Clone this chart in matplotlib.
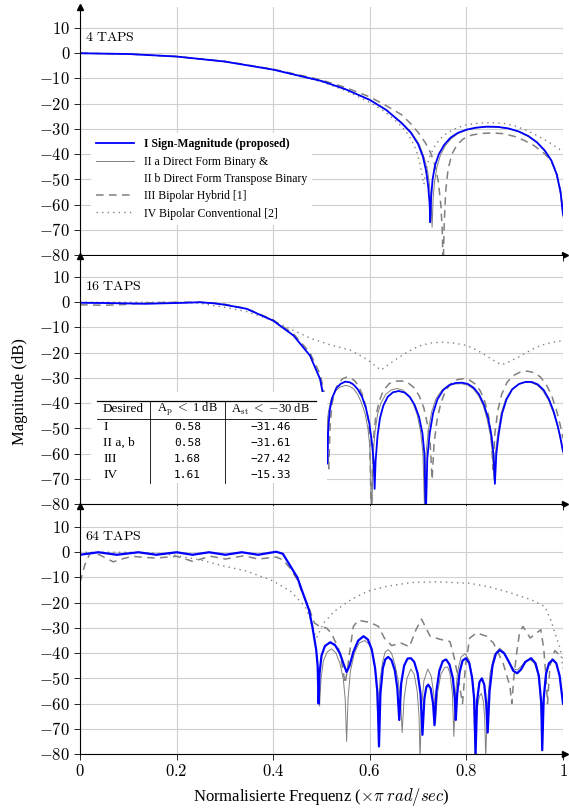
import numpy as np
import matplotlib
matplotlib.use("Agg")
import matplotlib.pyplot as plt
from matplotlib.lines import Line2D
from matplotlib.patches import Rectangle
from matplotlib.ticker import FuncFormatter

plt.rcParams['font.family'] = ['Liberation Serif', 'DejaVu Serif']
plt.rcParams['mathtext.fontset'] = 'cm'

# ---------------- 4 taps ----------------
f4_I = [0, 0.1, 0.2, 0.3, 0.4, 0.5, 0.55, 0.6, 0.634, 0.666, 0.685, 0.7, 0.71, 0.717, 0.721, 0.724,
        0.725, 0.727, 0.73, 0.735, 0.743, 0.754, 0.767, 0.782, 0.8, 0.82, 0.842, 0.865, 0.887,
        0.908, 0.928, 0.946, 0.962, 0.976, 0.987, 0.995, 1.0]
m4_I = [0, -0.3, -1.3, -3.3, -6.5, -11, -14.3, -18.5, -22.5, -27.7, -31.5, -36, -41, -47, -53, -60,
        -67, -57, -50, -44.5, -40, -36.3, -33.5, -31.6, -30.3, -29.5, -29.1, -29.2, -29.8,
        -31, -32.8, -35.3, -38.5, -42.5, -48, -55, -64]
f4_II = [0, 0.1, 0.2, 0.3, 0.4, 0.5, 0.55, 0.6, 0.634, 0.666, 0.686, 0.702, 0.712, 0.72, 0.724, 0.727,
         0.729, 0.731, 0.734, 0.739, 0.746, 0.756, 0.769, 0.783, 0.8, 0.82, 0.842, 0.865, 0.887,
         0.908, 0.928, 0.946, 0.962, 0.976, 0.987, 0.995, 1.0]
m4_II = [0, -0.3, -1.3, -3.3, -6.5, -11, -14.3, -18.4, -22.4, -27.5, -31.3, -36, -41, -47, -53, -60,
         -69, -58, -51, -45, -40.5, -36.7, -33.8, -31.8, -30.5, -29.6, -29.2, -29.3, -29.9,
         -31.1, -33, -35.5, -38.8, -42.8, -48.5, -56, -65]
f4_III = [0, 0.1, 0.2, 0.3, 0.4, 0.5, 0.55, 0.6, 0.634, 0.666, 0.685, 0.701, 0.715, 0.726, 0.735,
          0.742, 0.747, 0.75, 0.752, 0.754, 0.757, 0.762, 0.77, 0.78, 0.793, 0.81, 0.83, 0.855,
          0.877, 0.9, 0.92, 0.94, 0.96, 0.975, 0.986, 0.994, 1.0]
m4_III = [0, -0.3, -1.3, -3.2, -6.3, -10.6, -13.6, -17.3, -20.8, -24.4, -28, -31.6, -35.5, -39.5, -44.5,
          -51, -60, -70, -85, -68, -55, -46, -40, -36.5, -34, -32.5, -31.8, -31.6,
          -31.9, -33, -34.6, -36.6, -39.5, -42.5, -47, -54, -62]
f4_IV = [0, 0.1, 0.2, 0.3, 0.4, 0.5, 0.55, 0.6, 0.63, 0.659, 0.675, 0.687, 0.697, 0.704, 0.709,
         0.712, 0.716, 0.722, 0.733, 0.745, 0.76, 0.78, 0.8, 0.825, 0.85, 0.877, 0.9, 0.925,
         0.95, 0.975, 1.0]
m4_IV = [0, -0.3, -1.3, -3.3, -6.6, -11.3, -14.8, -19.5, -23, -27.7, -31, -34.5, -39, -44, -49,
         -52, -47, -42, -37.3, -34, -31.6, -29.6, -28.4, -27.7, -27.5, -27.8, -28.8, -30.6,
         -33, -35.8, -39]

# ---------------- 16 taps ----------------
f16_I = [0, 0.05, 0.136, 0.2, 0.248, 0.276, 0.3, 0.345, 0.4, 0.442, 0.476, 0.497, 0.505, 0.509,
         0.512, 0.514, 0.517, 0.522, 0.531, 0.54, 0.549, 0.558, 0.566, 0.575, 0.584, 0.592,
         0.599, 0.604, 0.608, 0.610, 0.612, 0.616, 0.621, 0.628, 0.637, 0.648, 0.66, 0.672,
         0.683, 0.693, 0.702, 0.709, 0.713, 0.716, 0.719, 0.724, 0.731, 0.74, 0.752, 0.765,
         0.778, 0.791, 0.803, 0.815, 0.826, 0.836, 0.845, 0.852, 0.856, 0.859, 0.862, 0.867,
         0.874, 0.883, 0.895, 0.909, 0.922, 0.935, 0.948, 0.96, 0.971, 0.981, 0.989, 0.995, 1.0]
m16_I = [-0.2, -0.3, -0.6, -0.3, 0, -0.4, -1.0, -2.6, -7.3, -13.2, -21.1, -30.4, -38, -48,
         -64, -50, -43, -38, -34, -32.3, -31.5, -31.7, -32.6, -34.5, -37.5, -42,
         -48, -55, -63, -74, -63, -53, -46, -41, -37.5, -35.7, -35.2, -35.8,
         -37.6, -40.8, -45.5, -52, -60, -85, -62, -52, -44, -38.5, -34.8, -32.8,
         -32, -31.9, -32.4, -33.9, -36.5, -40.5, -46, -53, -60, -72, -60, -52,
         -44, -38.5, -34.5, -32.4, -31.6, -31.6, -32.6, -34.8, -38.5, -43.5, -49, -54, -59]
f16_II = [0, 0.05, 0.136, 0.2, 0.248, 0.276, 0.3, 0.345, 0.4, 0.442, 0.476, 0.497, 0.503, 0.507,
          0.509, 0.511, 0.514, 0.519, 0.528, 0.538, 0.549, 0.558, 0.566, 0.574, 0.582, 0.59,
          0.596, 0.6, 0.604, 0.607, 0.611, 0.616, 0.623, 0.633, 0.644, 0.656, 0.668, 0.679,
          0.689, 0.698, 0.705, 0.71, 0.713, 0.716, 0.721, 0.728, 0.737, 0.749, 0.762, 0.776,
          0.79, 0.802, 0.814, 0.825, 0.835, 0.843, 0.85, 0.854, 0.857, 0.86, 0.865, 0.872,
          0.881, 0.893, 0.907, 0.92, 0.933, 0.946, 0.958, 0.97, 0.98, 0.989, 0.995, 1.0]
m16_II = [-0.2, -0.3, -0.6, -0.3, 0, -0.4, -1.0, -2.6, -7.3, -13.2, -21.1, -30.6, -38, -48,
          -65, -52, -44, -39, -35.3, -33.7, -33, -33.3, -34.3, -36.3, -39.5, -44,
          -50, -57, -85, -60, -51, -44.5, -40, -36.5, -34.8, -34.2, -34.8, -36.6,
          -39.8, -44.5, -51, -60, -80, -61, -51, -43.5, -38.3, -34.9, -33, -32.4,
          -32.3, -32.8, -34.3, -37, -41, -46.5, -53, -60, -70, -60, -52, -44,
          -38.6, -34.7, -32.6, -31.8, -31.8, -32.8, -35, -38.8, -43.8, -49.5, -55, -60]
f16_III = [0, 0.05, 0.09, 0.14, 0.2, 0.25, 0.28, 0.3, 0.345, 0.4, 0.442, 0.476, 0.497, 0.506,
           0.511, 0.515, 0.518, 0.522, 0.528, 0.536, 0.544, 0.552, 0.561, 0.569, 0.577, 0.585,
           0.592, 0.597, 0.6, 0.603, 0.607, 0.612, 0.619, 0.628, 0.64, 0.653, 0.666, 0.679,
           0.691, 0.702, 0.712, 0.72, 0.725, 0.729, 0.733, 0.739, 0.747, 0.757, 0.769, 0.781,
           0.794, 0.806, 0.818, 0.829, 0.838, 0.846, 0.851, 0.855, 0.859, 0.865, 0.873, 0.884,
           0.897, 0.911, 0.926, 0.94, 0.953, 0.965, 0.976, 0.986, 0.994, 1.0]
m16_III = [-1.0, -1.2, -0.9, -0.2, 0, 0, -0.3, -0.8, -2.5, -7, -12.5, -20, -28.5, -36,
           -46, -66, -48, -40, -35, -31.8, -30.3, -29.7, -30, -31.2, -33.3, -36.8,
           -41.5, -47, -54, -85, -55, -46, -39.5, -35, -32.3, -31.3, -31.2, -31.9,
           -33.8, -37, -42, -49, -56, -70.3, -56, -47, -40, -35, -32, -30.7,
           -30.3, -30.8, -32.4, -35.2, -39.3, -45, -52, -66.3, -52, -43, -36.5, -31.8,
           -29.1, -27.7, -27.3, -27.9, -29.6, -32.5, -36.7, -42.5, -48.5, -54]
f16_IV = [0, 0.1, 0.2, 0.25, 0.276, 0.3, 0.345, 0.4, 0.442, 0.48, 0.52, 0.56, 0.593, 0.61,
          0.623, 0.64, 0.659, 0.68, 0.701, 0.725, 0.75, 0.775, 0.8, 0.822, 0.842, 0.86, 0.873,
          0.89, 0.912, 0.933, 0.954, 0.975, 1.0]
m16_IV = [0, 0, 0, -0.4, -1.3, -2, -3.7, -7.3, -11.2, -14.5, -17, -19, -22.5, -25,
          -26.9, -24.5, -22, -19.5, -17.4, -16.2, -15.8, -16.2, -17.1, -19, -21.3, -23.5, -24.8,
          -23.5, -21.3, -19, -17.1, -16, -15.2]

# ---------------- 64 taps ----------------
f64_I = [0, 0.038, 0.076, 0.121, 0.158, 0.2, 0.233, 0.267, 0.301, 0.335, 0.369, 0.406, 0.42,
         0.436, 0.45, 0.459, 0.474, 0.481, 0.489, 0.492, 0.494, 0.496, 0.5, 0.507, 0.518, 0.528,
         0.538, 0.546, 0.552, 0.558, 0.566, 0.576, 0.587, 0.596, 0.604, 0.611, 0.616, 0.619,
         0.622, 0.627, 0.632, 0.638, 0.645, 0.652, 0.657, 0.661, 0.665, 0.671, 0.678, 0.685,
         0.692, 0.699, 0.705, 0.709, 0.713, 0.717, 0.721, 0.726, 0.731, 0.734, 0.738, 0.744,
         0.751, 0.758, 0.765, 0.772, 0.776, 0.778, 0.781, 0.786, 0.792, 0.799, 0.806, 0.812,
         0.816, 0.819, 0.822, 0.827, 0.832, 0.837, 0.841, 0.844, 0.848, 0.854, 0.861, 0.869,
         0.878, 0.888, 0.897, 0.905, 0.913, 0.922, 0.934, 0.943, 0.95, 0.955, 0.957, 0.96,
         0.965, 0.971, 0.979, 0.986, 0.993, 1.0]
m64_I = [-1, 0, -1, 0, -1, 0, -1, 0, -1, 0, -1, 0.2, -0.6,
         -5.6, -10, -14.9, -22.8, -29.4, -38.7, -45, -60, -48, -41, -37.2, -35.7, -36.8,
         -40, -44.5, -47.5, -45, -39.5, -35, -33.3, -34.6, -38.5, -46, -56, -77,
         -56, -46, -42.5, -41.5, -42.8, -47, -54, -66.5, -52, -45, -42.2, -42,
         -43.5, -48, -56, -72.4, -58, -53.5, -52.5, -54, -60, -68.6, -55, -47,
         -43.2, -42.5, -44.5, -50, -58, -66.5, -56, -47.5, -43, -42, -44, -50,
         -58, -80, -59, -51.5, -50, -52.5, -60, -71.5, -55, -45, -40.3, -38.8,
         -40, -43.5, -47, -48, -46.5, -43.5, -42, -44, -49, -60, -78.5, -58,
         -48, -44, -42.6, -44, -49, -60]
f64_II = [0, 0.038, 0.076, 0.121, 0.158, 0.2, 0.233, 0.267, 0.301, 0.335, 0.369, 0.406, 0.42,
          0.436, 0.45, 0.459, 0.474, 0.481, 0.489, 0.493, 0.496, 0.499, 0.504, 0.512, 0.521,
          0.53, 0.538, 0.545, 0.549, 0.552, 0.555, 0.56, 0.568, 0.578, 0.59, 0.6, 0.608, 0.613,
          0.617, 0.621, 0.627, 0.632, 0.638, 0.645, 0.652, 0.659, 0.664, 0.667, 0.671, 0.677,
          0.685, 0.692, 0.698, 0.702, 0.704, 0.707, 0.712, 0.72, 0.727, 0.733, 0.736, 0.74,
          0.747, 0.755, 0.761, 0.766, 0.771, 0.774, 0.777, 0.782, 0.789, 0.797, 0.805, 0.811,
          0.815, 0.818, 0.822, 0.827, 0.831, 0.835, 0.838, 0.84, 0.843, 0.849, 0.858, 0.869,
          0.879, 0.89, 0.898, 0.905, 0.913, 0.922, 0.932, 0.941, 0.948, 0.953, 0.957, 0.961,
          0.966, 0.972, 0.98, 0.987, 0.994, 1.0]
m64_II = [-1, 0, -1, 0, -1, 0, -1, 0, -1, 0, -1, 0.2, -0.6,
          -5.6, -10, -14.9, -22.8, -29.4, -38.7, -47, -61, -50, -43, -39.5, -38.3,
          -40, -44, -50, -58, -75, -58, -47, -40, -36, -35, -36.8, -42, -50,
          -68, -51, -43, -39.5, -38.6, -40, -44.5, -51, -60, -71.5, -58, -50,
          -46.3, -48.5, -55, -65, -82, -62, -51, -46.3, -49, -57, -67.7, -56,
          -48.5, -45.7, -45.5, -48, -56, -73, -57, -47, -41.5, -40.2, -42.5, -48,
          -57, -82, -62, -57, -56, -59, -66, -82, -62, -48, -40.5, -38,
          -40, -44, -46.3, -46.7, -45.3, -43.3, -42.6, -44, -48, -56, -72, -56,
          -48, -44, -42.6, -44.5, -50, -60]
f64_III = [0, 0.01, 0.021, 0.04, 0.069, 0.09, 0.11, 0.13, 0.158, 0.2, 0.233, 0.271, 0.301,
           0.339, 0.369, 0.406, 0.42, 0.436, 0.45, 0.459, 0.474, 0.485, 0.497, 0.51, 0.52, 0.535,
           0.542, 0.549, 0.554, 0.558, 0.566, 0.576, 0.6, 0.618, 0.63, 0.645, 0.665, 0.682, 0.695,
           0.707, 0.725, 0.745, 0.766, 0.775, 0.785, 0.792, 0.798, 0.807, 0.821, 0.842, 0.856,
           0.876, 0.89, 0.894, 0.898, 0.904, 0.91, 0.917, 0.932, 0.954, 0.96, 0.965, 0.968,
           0.973, 0.983, 1.0]
m64_III = [-12, -5, -0.3, -1, -3.8, -2.5, -1.6, -2, -2.3, -1.6, -3.6, -1.6, -2.7,
           -1.4, -2.7, -1.9, -3, -6.5, -11, -15.5, -22, -28, -29.5, -30, -32, -38,
           -44, -52, -46, -40, -29.4, -27, -27.8, -29.4, -34, -37, -36, -37.5, -31,
           -26.5, -33.3, -34.5, -35.4, -42, -52, -60, -45, -34, -32, -33.3, -36,
           -44, -53, -60, -50, -40, -32, -29.4, -34, -30.7, -38, -50, -60,
           -45, -39, -42]
f64_IV = [0, 0.1, 0.15, 0.196, 0.248, 0.301, 0.345, 0.399, 0.436, 0.466, 0.476, 0.483, 0.49,
          0.497, 0.504, 0.526, 0.561, 0.596, 0.638, 0.687, 0.737, 0.807, 0.849, 0.891, 0.934,
          0.962, 0.975, 0.985, 0.994, 1.0]
m64_IV = [0, 0, -0.3, -1.2, -3, -5.6, -7.5, -11.3, -15.5, -21.5, -26, -31, -34,
          -31, -28.2, -23.5, -18.8, -15.4, -13.4, -12, -11.7, -12.3, -13.8, -16.1, -18.8,
          -21.5, -27, -33, -38, -46]

panels = [
    ("4 TAPS", (f4_I, m4_I), (f4_II, m4_II), (f4_III, m4_III), (f4_IV, m4_IV)),
    ("16 TAPS", (f16_I, m16_I), (f16_II, m16_II), (f16_III, m16_III), (f16_IV, m16_IV)),
    ("64 TAPS", (f64_I, m64_I), (f64_II, m64_II), (f64_III, m64_III), (f64_IV, m64_IV)),
]

legend_labels = ["I Sign-Magnitude (proposed)", "II a Direct Form Binary &",
                 "II b Direct Form Transpose Binary", "III Bipolar Hybrid [1]",
                 "IV Bipolar Conventional [2]"]

table_head = ["Desired", r"A$_\mathrm{p}$ $<$ 1 dB", r"A$_\mathrm{st}$ $<$ $-$30 dB"]
table_rows = ["I", "II a, b", "III", "IV"]
table_ap = ["0.58", "0.58", "1.68", "1.61"]
table_ast = ["\u221231.46", "\u221231.61", "\u221227.42", "\u221215.33"]

yticks = np.arange(-80, 11, 10)
xticks = [0, 0.2, 0.4, 0.6, 0.8, 1.0]

blue = '#0000ff'
gray = '#808080'
dash = (0, (5, 3.5))
dot = (0, (1, 3))

fig = plt.figure(figsize=(5.69, 8.09), dpi=100)
left, width = 80 / 569, 483 / 569
h = 248.4 / 809
bottoms = [1 - 255 / 809, 1 - 504 / 809, 1 - 754 / 809]

axes = []
for i, (name, s1, s2, s3, s4) in enumerate(panels):
    ax = fig.add_axes([left, bottoms[i], width, h])
    axes.append(ax)
    ax.plot(*s4, color=gray, lw=1.0, linestyle=dot)
    ax.plot(*s3, color=gray, lw=1.1, linestyle=dash)
    ax.plot(*s2, color=gray, lw=0.7)
    ax.plot(*s1, color=blue, lw=1.3 if i < 2 else 1.6)
    ax.set_xlim(0, 1)
    ax.set_ylim(-80, 18.5)
    ax.set_yticks(yticks)
    ax.set_xticks(xticks)
    ax.yaxis.set_major_formatter(FuncFormatter(lambda v, p: f'${v:g}$'))
    ax.xaxis.set_major_formatter(FuncFormatter(lambda v, p: f'${v:g}$'))
    ax.grid(True, color='#cfcfcf', lw=0.8)
    ax.set_axisbelow(True)
    for sp in ['top', 'right']:
        ax.spines[sp].set_visible(False)
    for sp in ['left', 'bottom']:
        ax.spines[sp].set_linewidth(0.8)
    ax.tick_params(direction='out', length=4, width=0.6, labelsize=12, pad=3)
    ax.plot(0, 1, marker='^', color='k', ms=4, transform=ax.transAxes, clip_on=False)
    ax.plot(1.005, 0, marker='>', color='k', ms=4, transform=ax.transAxes, clip_on=False)
    ax.text(0.011, 0.876, r'$\mathrm{' + name.replace(' ', r'\ ') + '}$', transform=ax.transAxes,
            fontsize=10, va='center', ha='left')
    if i < 2:
        ax.tick_params(labelbottom=False)

# legend in the 4-tap panel
ax1 = axes[0]
handles = [Line2D([], [], color=blue, lw=1.3),
           Line2D([], [], color=gray, lw=0.7),
           Line2D([], [], color='none'),
           Line2D([], [], color=gray, lw=1.1, linestyle=dash),
           Line2D([], [], color=gray, lw=1.0, linestyle=dot)]
leg = ax1.legend(handles, legend_labels, loc='upper left', bbox_to_anchor=(0.0228, 0.4911),
                 borderaxespad=0, frameon=True, fancybox=False, fontsize=8.5,
                 handlelength=3.2, handletextpad=0.8, labelspacing=0.45, borderpad=0.45)
leg.get_frame().set_facecolor('white')
leg.get_frame().set_edgecolor('none')
leg.get_frame().set_alpha(1)
leg.get_texts()[0].set_fontweight('bold')

# table in the 16-tap panel
ax2 = axes[1]
tr = ax2.transAxes
ax2.add_patch(Rectangle((0.0228, 0.0845), 0.4886, 0.3664, transform=tr,
                        facecolor='white', edgecolor='none', zorder=5))
ax2.plot([0.0352, 0.4896], [0.4147, 0.4147], color='k', lw=0.9, transform=tr, zorder=6)
ax2.plot([0.0352, 0.4896], [0.341, 0.341], color='k', lw=0.6, transform=tr, zorder=6)
for xv in [0.1449, 0.3002]:
    ax2.plot([xv, xv], [0.4147, 0.0845], color='k', lw=0.6, transform=tr, zorder=6)
ax2.text(0.0476, 0.3824, table_head[0], transform=tr, fontsize=9.5, va='center', zorder=7)
ax2.text(0.2226, 0.3824, table_head[1], transform=tr, fontsize=9, va='center', ha='center', zorder=7)
ax2.text(0.3949, 0.3824, table_head[2], transform=tr, fontsize=9, va='center', ha='center', zorder=7)
row_y = [0.3112, 0.2468, 0.1824, 0.1180]
for yv, r, a, s in zip(row_y, table_rows, table_ap, table_ast):
    ax2.text(0.0476, yv, r, transform=tr, fontsize=9.5, va='center', zorder=7)
    ax2.text(0.2226, yv, a, transform=tr, fontsize=8, va='center', ha='center',
             family='DejaVu Sans Mono', zorder=7)
    ax2.text(0.3949, yv, s, transform=tr, fontsize=8, va='center', ha='center',
             family='DejaVu Sans Mono', zorder=7)

fig.text(20 / 569, 1 - 392 / 809, 'Magnitude (dB)', rotation=90, fontsize=12,
         ha='center', va='center')
fig.text(321.5 / 569, 1 - 797 / 809, r'Normalisierte Frequenz ($\times\pi$ $rad/sec$)',
         fontsize=12, ha='center', va='center')

fig.savefig('out.png', dpi=100)
